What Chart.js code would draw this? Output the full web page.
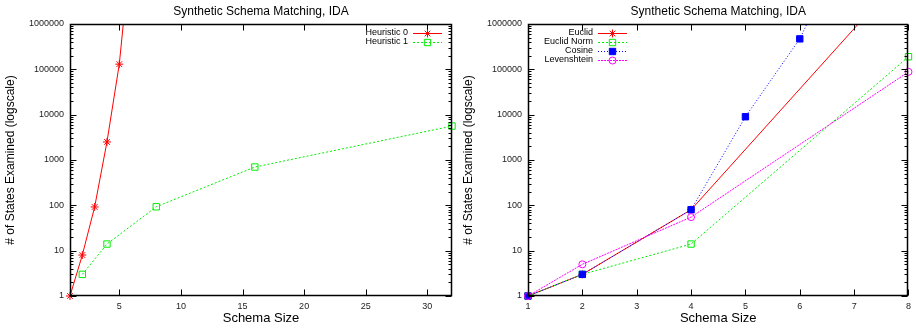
<!DOCTYPE html>
<html>
<head>
<meta charset="utf-8">
<script src="https://cdn.jsdelivr.net/npm/chart.js@4/dist/chart.umd.min.js"></script>
<style>
  html, body { margin: 0; padding: 0; background: #fff; }
  #wrap { display: flex; width: 916px; height: 330px; }
  canvas { display: block; }
</style>
</head>
<body>
<div id="wrap">
  <canvas id="c1" width="458" height="330"></canvas>
  <canvas id="c2" width="458" height="330"></canvas>
</div>
<script>
// ---------- data ----------
const chartTitle = "Synthetic Schema Matching, IDA";
const xAxisTitle = "Schema Size";
const yAxisTitle = "# of States Examined (logscale)";
const yTickValues = [1, 10, 100, 1000, 10000, 100000, 1000000];

// left chart
const leftXTicks = [5, 10, 15, 20, 25, 30];
const h0X = [1, 2, 3, 4, 5, 6];
const h0Y = [1, 8, 92, 2500, 130000, 70000000];
const h1X = [2, 4, 8, 16, 32];
const h1Y = [3, 14, 93, 700, 5600];

// right chart
const rightXTicks = [1, 2, 3, 4, 5, 6, 7, 8];
const euclidX = [1, 2, 4, 8];
const euclidY = [1, 3, 80, 17000000];
const euclidNormX = [1, 2, 4, 8];
const euclidNormY = [1, 3, 14, 190000];
const cosineX = [1, 2, 4, 5, 6, 7];
const cosineY = [1, 3, 80, 9000, 470000, 150000000];
const levX = [1, 2, 4, 8];
const levY = [1, 5, 55, 88000];

// ---------- helpers ----------
const FONT = "'Liberation Sans', Arial, Helvetica, sans-serif";
const pts = (xs, ys) => xs.map((x, i) => ({ x: x, y: ys[i] }));

function ds(label, xs, ys, color, dash, pointStyle, radius, filled, idx) {
  return {
    label: label,
    data: pts(xs, ys),
    order: -idx,
    clip: { left: 10, right: 10, bottom: 10, top: -1 },
    borderColor: color,
    borderWidth: 1,
    borderDash: dash,
    pointStyle: pointStyle,
    pointRadius: radius,
    pointBorderWidth: 1,
    pointBorderColor: color,
    pointBackgroundColor: filled ? color : 'rgba(0,0,0,0)',
    fill: false,
    tension: 0
  };
}

const framePlugin = {
  id: 'frame',
  afterDatasetsDraw(chart, args, opts) {
    const ctx = chart.ctx;
    const a = chart.chartArea;
    const xs = chart.scales.x, ys = chart.scales.y;
    ctx.save();
    ctx.strokeStyle = '#000';
    ctx.lineWidth = 1;
    ctx.setLineDash([]);
    const L = Math.round(a.left) + 0.5, R = Math.round(a.right) - 0.5;
    const T = Math.round(a.top) + 0.5, B = Math.round(a.bottom) - 0.5;
    ctx.beginPath();
    yTickValues.forEach(v => {
      const p = Math.round(ys.getPixelForValue(v)) + 0.5;
      ctx.moveTo(L, p); ctx.lineTo(L + 6, p);
      ctx.moveTo(R, p); ctx.lineTo(R - 6, p);
    });
    for (let d = 0; d < 6; d++) {
      for (let m = 2; m <= 9; m++) {
        const p = Math.round(ys.getPixelForValue(m * Math.pow(10, d))) + 0.5;
        ctx.moveTo(L, p); ctx.lineTo(L + 3, p);
        ctx.moveTo(R, p); ctx.lineTo(R - 3, p);
      }
    }
    opts.xTicks.forEach(v => {
      const p = Math.round(xs.getPixelForValue(v)) + 0.5;
      ctx.moveTo(p, B); ctx.lineTo(p, B - 6);
      ctx.moveTo(p, T); ctx.lineTo(p, T + 6);
    });
    ctx.stroke();
    ctx.lineWidth = 1.5;
    ctx.strokeRect(L, T, R - L, B - T);

    // titles
    ctx.fillStyle = '#000';
    ctx.textAlign = 'center';
    ctx.textBaseline = 'middle';
    const cx = (a.left + a.right) / 2;
    ctx.font = '12px ' + FONT;
    ctx.fillText(chartTitle, cx, 12);
    ctx.font = '13px ' + FONT;
    ctx.fillText(xAxisTitle, cx, 318);
    ctx.save();
    ctx.translate(11, (a.top + a.bottom) / 2);
    ctx.rotate(-Math.PI / 2);
    ctx.font = '12px ' + FONT;
    ctx.fillText(yAxisTitle, 0, 0);
    ctx.restore();

    // legend (gnuplot style: text right-aligned, then sample)
    const lg = opts.legend;
    ctx.font = '9px ' + FONT;
    ctx.textAlign = 'right';
    chart.data.datasets.forEach((d, i) => {
      const y = lg.y + i * 9;
      ctx.fillStyle = '#000';
      ctx.fillText(d.label, lg.textRight, y);
      ctx.strokeStyle = d.borderColor;
      ctx.lineWidth = 1;
      ctx.setLineDash(d.borderDash || []);
      ctx.beginPath();
      ctx.moveTo(lg.sampleLeft, Math.round(y) + 0.5);
      ctx.lineTo(lg.sampleRight, Math.round(y) + 0.5);
      ctx.stroke();
      ctx.setLineDash([]);
      ctx.fillStyle = d.pointBackgroundColor;
      ctx.strokeStyle = d.pointBorderColor;
      Chart.helpers.drawPoint(ctx, {
        pointStyle: d.pointStyle, radius: d.pointRadius, borderWidth: 1, rotation: 0
      }, (lg.sampleLeft + lg.sampleRight) / 2, Math.round(y) + 0.5);
    });
    ctx.restore();
  }
};

function makeChart(id, datasets, xMin, xMax, xTicks, legend) {
  return new Chart(document.getElementById(id), {
    type: 'line',
    data: { datasets: datasets },
    options: {
      responsive: false,
      devicePixelRatio: 1,
      animation: false,
      layout: { padding: { top: 24, right: 6, left: 0, bottom: 0 } },
      plugins: {
        legend: { display: false },
        title: { display: false },
        tooltip: { enabled: false },
        frame: { xTicks: xTicks, legend: legend }
      },
      scales: {
        x: {
          type: 'linear', min: xMin, max: xMax,
          grid: { display: false, drawTicks: false },
          border: { display: false },
          afterBuildTicks: s => { s.ticks = xTicks.map(v => ({ value: v })); },
          afterFit: s => { s.height = 34; },
          ticks: {
            autoSkip: false, maxRotation: 0, padding: 5,
            color: '#222', font: { family: FONT, size: 9 },
            callback: v => String(v)
          }
        },
        y: {
          type: 'logarithmic', min: 1, max: 1000000,
          grid: { display: false, drawTicks: false },
          border: { display: false },
          afterBuildTicks: s => { s.ticks = yTickValues.map(v => ({ value: v })); },
          afterFit: s => { s.width = 70; },
          ticks: {
            autoSkip: false, padding: 6,
            color: '#222', font: { family: FONT, size: 9 },
            callback: v => String(v)
          }
        }
      }
    },
    plugins: [framePlugin]
  });
}

makeChart('c1', [
  ds('Heuristic 0', h0X, h0Y, '#ff0000', [], 'star', 4, false, 0),
  ds('Heuristic 1', h1X, h1Y, '#00ee00', [2, 2], 'rect', 4.5, false, 1)
], 1, 32, leftXTicks, { y: 33, textRight: 408, sampleLeft: 413, sampleRight: 442 });

makeChart('c2', [
  ds('Euclid', euclidX, euclidY, '#ff0000', [], 'star', 4, false, 0),
  ds('Euclid Norm', euclidNormX, euclidNormY, '#00ee00', [2, 2], 'rect', 4.5, false, 1),
  ds('Cosine', cosineX, cosineY, '#0000ff', [1, 2], 'rect', 4.5, true, 2),
  ds('Levenshtein', levX, levY, '#ff00ff', [2, 1], 'circle', 3.5, false, 3)
], 1, 8, rightXTicks, { y: 33, textRight: 135, sampleLeft: 140, sampleRight: 169 });
</script>
</body>
</html>
